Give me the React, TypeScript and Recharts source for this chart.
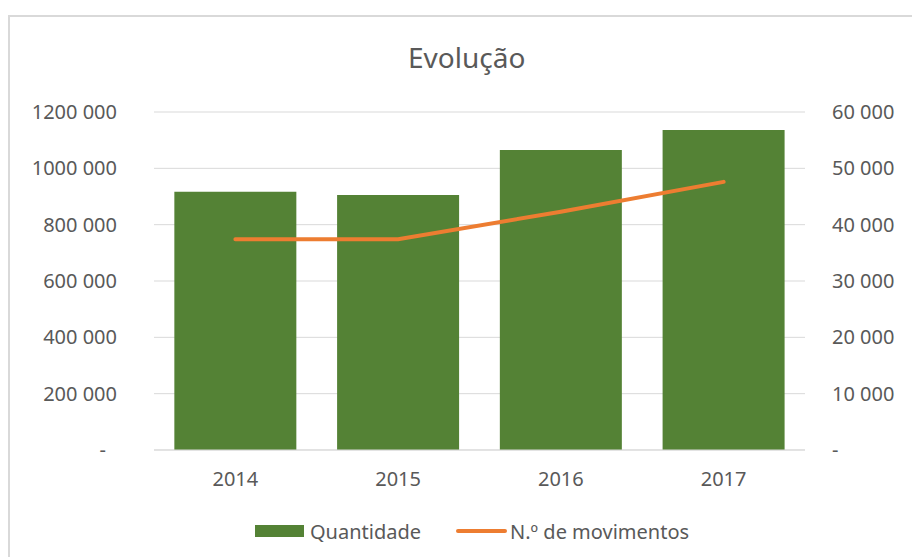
import { Bar, CartesianGrid, ComposedChart, Legend, Line, XAxis, YAxis } from "recharts";

const years = ["2014", "2015", "2016", "2017"];
const quantidade = [917000, 905000, 1065000, 1136000];
const movimentos = [37400, 37400, 42300, 47600];
const leftTicks = [0, 200000, 400000, 600000, 800000, 1000000, 1200000];
const rightTicks = [0, 10000, 20000, 30000, 40000, 50000, 60000];

const TEXT = "#595959";
const FONT = "'Noto Sans', sans-serif";
const GREEN = "#548235";
const ORANGE = "#ED7D31";

const data = years.map((y, i) => ({
  year: y,
  quantidade: quantidade[i],
  movimentos: movimentos[i]
}));

function fmt(v: number) {
  if (v === 0) return "-";
  return `${Math.floor(v / 1000)} ${String(v % 1000).padStart(3, "0")}`;
}

function LeftTick(props: any) {
  const { x, y, payload } = props;
  const zero = payload.value === 0;
  return (
    <text x={zero ? x - 11 : x} y={y} dy={7} textAnchor="end" fill={TEXT} fontSize={20} fontFamily={FONT}>
      {fmt(payload.value)}
    </text>
  );
}

function RightTick(props: any) {
  const { x, y, payload } = props;
  return (
    <text x={x} y={y} dy={7} textAnchor="start" fill={TEXT} fontSize={20} fontFamily={FONT}>
      {fmt(payload.value)}
    </text>
  );
}

function LegendContent() {
  return (
    <div style={{ display: "flex", alignItems: "center", marginLeft: 245, height: 24, fontFamily: FONT, fontSize: 20, color: TEXT }}>
      <span style={{ width: 49, height: 12, background: GREEN, display: "inline-block" }} />
      <span style={{ marginLeft: 6 }}>Quantidade</span>
      <span style={{ marginLeft: 35, width: 51, height: 4, borderRadius: 2, background: ORANGE, display: "inline-block" }} />
      <span style={{ marginLeft: 3 }}>N.º de movimentos</span>
    </div>
  );
}

export default function App() {
  return (
    <div
      style={{
        position: "fixed",
        left: 8,
        top: 15,
        width: 904,
        height: 542,
        borderLeft: "2px solid #d9d9d9",
        borderTop: "2px solid #d9d9d9",
        boxSizing: "border-box",
        overflow: "hidden",
        background: "#fff"
      }}
    >
      <svg width={902} height={80} style={{ position: "absolute", left: 0, top: 0, pointerEvents: "none" }}>
        <text x={456.7} y={51.3} textAnchor="middle" fill={TEXT} fontSize={28} fontFamily={FONT}>
          Evolução
        </text>
      </svg>
      <ComposedChart width={902} height={540} data={data} margin={{ top: 95, right: 0, bottom: 14, left: 0 }} barCategoryGap="12.5%">
        <CartesianGrid yAxisId="left" vertical={false} stroke="#d9d9d9" />
        <XAxis
          dataKey="year"
          height={69}
          tickSize={0}
          tickMargin={22}
          axisLine={{ stroke: "#d9d9d9" }}
          tickLine={false}
          tick={{ fill: TEXT, fontSize: 20, fontFamily: FONT }}
        />
        <YAxis
          yAxisId="left"
          width={144}
          domain={[0, 1200000]}
          ticks={leftTicks}
          tickSize={0}
          tickMargin={37}
          axisLine={false}
          tickLine={false}
          tick={<LeftTick />}
        />
        <YAxis
          yAxisId="right"
          orientation="right"
          width={107}
          domain={[0, 60000]}
          ticks={rightTicks}
          tickSize={0}
          tickMargin={27}
          axisLine={false}
          tickLine={false}
          tick={<RightTick />}
        />
        <Legend verticalAlign="bottom" height={24} content={<LegendContent />} wrapperStyle={{ left: 0, width: 902 }} />
        <Bar yAxisId="left" dataKey="quantidade" name="Quantidade" fill={GREEN} isAnimationActive={false} />
        <Line
          yAxisId="right"
          type="linear"
          dataKey="movimentos"
          name="N.º de movimentos"
          stroke={ORANGE}
          strokeWidth={4}
          strokeLinecap="round"
          dot={false}
          activeDot={false}
          isAnimationActive={false}
        />
      </ComposedChart>
    </div>
  );
}
